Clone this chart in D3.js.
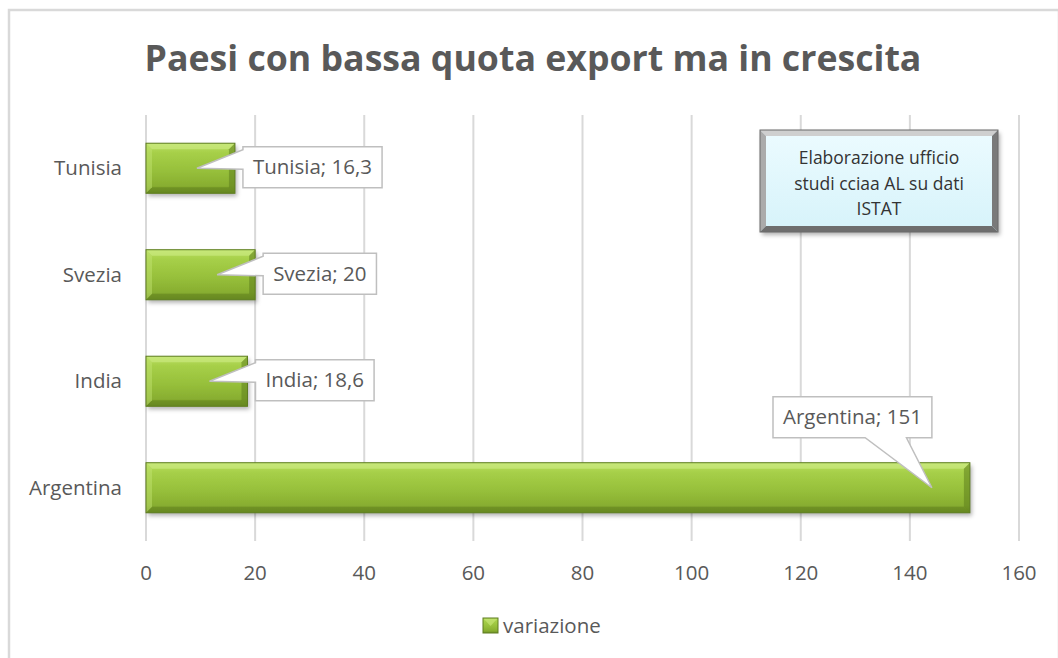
<!DOCTYPE html>
<html>
<head>
<meta charset="utf-8">
<script src="https://cdn.jsdelivr.net/npm/d3@7"></script>
<style>
  html, body { margin: 0; padding: 0; background: #fff; }
  svg { display: block; font-family: "Open Sans", "Noto Sans", sans-serif; }
</style>
</head>
<body>
<svg id="chart" width="1058" height="658"></svg>
<script>
// data
const categories = ['Argentina', 'India', 'Svezia', 'Tunisia']
const variazione = [151, 18.6, 20, 16.3]
const xTicks = [0, 20, 40, 60, 80, 100, 120, 140, 160]
const title = 'Paesi con bassa quota export ma in crescita'
const seriesName = 'variazione'
const sourceLines = ['Elaborazione ufficio', 'studi cciaa AL su dati', 'ISTAT']

const W = 1058, H = 658
const margin = { top: 115, right: 39, bottom: 117, left: 146 }
const textColor = '#595959'

const svg = d3.select('#chart')

// gradients and filters
const defs = svg.append('defs')
const barGrad = defs.append('linearGradient').attr('id', 'barGrad')
  .attr('x1', 0).attr('y1', 0).attr('x2', 0).attr('y2', 1)
;[[0, '#b9de62'], [0.2, '#a6cf48'], [0.55, '#97c03b'], [0.85, '#88ae30'], [1, '#6f9126']]
  .forEach(([o, c]) => barGrad.append('stop').attr('offset', o).attr('stop-color', c))

const boxGrad = defs.append('linearGradient').attr('id', 'boxGrad')
  .attr('x1', 0).attr('y1', 0).attr('x2', 0).attr('y2', 1)
;[[0, '#ecfbff'], [1, '#d6f3fa']]
  .forEach(([o, c]) => boxGrad.append('stop').attr('offset', o).attr('stop-color', c))

const shadow = defs.append('filter').attr('id', 'shadow')
  .attr('x', '-10%').attr('y', '-20%').attr('width', '130%').attr('height', '160%')
shadow.append('feDropShadow').attr('dx', 2).attr('dy', 3).attr('stdDeviation', 2)
  .attr('flood-color', '#000').attr('flood-opacity', 0.3)

// chart border
svg.append('rect')
  .attr('x', 9).attr('y', 10).attr('width', W - 8).attr('height', H - 8)
  .attr('fill', 'none').attr('stroke', '#d9d9d9').attr('stroke-width', 2.5)

// title, fitted to the width it has in the original
const titleText = svg.append('text')
  .attr('x', 533).attr('y', 71)
  .attr('text-anchor', 'middle')
  .attr('fill', textColor)
  .attr('font-weight', 'bold')
  .attr('font-size', 34)
  .text(title)
const tw = titleText.node().getComputedTextLength()
titleText.attr('font-size', 34 * 777 / tw)

const x = d3.scaleLinear()
  .domain([xTicks[0], xTicks[xTicks.length - 1]])
  .range([margin.left, W - margin.right])

const y = d3.scaleBand()
  .domain(categories.slice().reverse())
  .range([margin.top, H - margin.bottom])
  .paddingInner(0.53)
  .paddingOuter(0.265)

// gridlines
svg.append('g')
  .selectAll('line')
  .data(xTicks)
  .join('line')
  .attr('x1', d => x(d)).attr('x2', d => x(d))
  .attr('y1', margin.top).attr('y2', H - margin.bottom)
  .attr('stroke', '#d9d9d9').attr('stroke-width', 2)

// x axis labels
svg.append('g')
  .selectAll('text')
  .data(xTicks)
  .join('text')
  .attr('x', d => x(d)).attr('y', 580)
  .attr('text-anchor', 'middle')
  .attr('fill', textColor)
  .attr('font-size', 20.5)
  .text(d => d)

// category labels
svg.append('g')
  .selectAll('text')
  .data(categories)
  .join('text')
  .attr('x', 122)
  .attr('y', d => y(d) + y.bandwidth() / 2)
  .attr('dy', '0.35em')
  .attr('text-anchor', 'end')
  .attr('fill', textColor)
  .attr('font-size', 20.5)
  .text(d => d)

// bars with bevel
const bev = 6
const bars = svg.append('g')
  .selectAll('g')
  .data(categories.map((c, i) => ({ c, v: variazione[i] })))
  .join('g')
  .attr('transform', d => `translate(${x(0)},${y(d.c)})`)

bars.each(function (d) {
  const g = d3.select(this)
  const w = x(d.v) - x(0)
  const h = y.bandwidth()
  g.append('rect')
    .attr('width', w).attr('height', h)
    .attr('fill', 'url(#barGrad)')
    .attr('filter', 'url(#shadow)')
  // top bevel
  g.append('polygon')
    .attr('points', [[0, 0], [w, 0], [w - bev, bev], [bev, bev]].join(' '))
    .attr('fill', '#d2ee8a').attr('opacity', 0.55)
  // bottom bevel
  g.append('polygon')
    .attr('points', [[0, h], [w, h], [w - bev, h - bev], [bev, h - bev]].join(' '))
    .attr('fill', '#5d7e1c').attr('opacity', 0.5)
  // left bevel
  g.append('polygon')
    .attr('points', [[0, 0], [bev, bev], [bev, h - bev], [0, h]].join(' '))
    .attr('fill', '#c4e474').attr('opacity', 0.45)
  // right bevel
  g.append('polygon')
    .attr('points', [[w, 0], [w - bev, bev], [w - bev, h - bev], [w, h]].join(' '))
    .attr('fill', '#5f801e').attr('opacity', 0.55)
  g.append('rect')
    .attr('width', w).attr('height', h)
    .attr('fill', 'none').attr('stroke', '#5e7d20').attr('stroke-width', 1)
})

// data label callouts
const fmt = v => String(v).replace('.', ',')
const labelG = svg.append('g')
categories.forEach((c, i) => {
  const v = variazione[i]
  const cy = y(c) + y.bandwidth() / 2
  const tip = [x(v) - 38, cy]
  const label = `${c}; ${fmt(v)}`
  const t = labelG.append('text')
    .attr('font-size', 20.5)
    .attr('fill', textColor)
    .text(label)
  const tl = t.node().getComputedTextLength()
  const bw = tl + 20, bh = 41
  let bx, by, path
  if (v > 100) {
    // box above the bar end, pointer downwards
    bx = tip[0] - bw
    by = y(c) - 66
    const b1 = bx + bw * 0.58, b2 = bx + bw * 0.84
    path = `M${bx},${by}H${bx + bw}V${by + bh}H${b2}L${tip[0]},${tip[1]}L${b1},${by + bh}H${bx}Z`
  } else {
    bx = x(v) + 8
    by = cy - bh / 2 - 1
    const b1 = by + 3, b2 = by + bh * 0.55
    path = `M${bx},${by}H${bx + bw}V${by + bh}H${bx}V${b2}L${tip[0]},${tip[1]}L${bx},${b1}Z`
  }
  labelG.insert('path', 'text')
    .attr('d', path)
    .attr('fill', '#fff')
    .attr('stroke', '#bfbfbf')
    .attr('stroke-width', 1.5)
  t.attr('x', bx + bw / 2).attr('y', by + bh / 2)
    .attr('dy', '0.35em')
    .attr('text-anchor', 'middle')
  t.raise()
})

// source note box with bevel
const sb = { x: 760, y: 130, w: 238, h: 102 }
const sg = svg.append('g').attr('transform', `translate(${sb.x},${sb.y})`)
sg.append('rect').attr('width', sb.w).attr('height', sb.h)
  .attr('fill', 'url(#boxGrad)').attr('filter', 'url(#shadow)')
const sbev = 6
sg.append('polygon')
  .attr('points', [[0, 0], [sb.w, 0], [sb.w - sbev, sbev], [sbev, sbev]].join(' '))
  .attr('fill', '#cfcfcf')
sg.append('polygon')
  .attr('points', [[0, 0], [sbev, sbev], [sbev, sb.h - sbev], [0, sb.h]].join(' '))
  .attr('fill', '#ababab')
sg.append('polygon')
  .attr('points', [[sb.w, 0], [sb.w - sbev, sbev], [sb.w - sbev, sb.h - sbev], [sb.w, sb.h]].join(' '))
  .attr('fill', '#7a7a7a')
sg.append('polygon')
  .attr('points', [[0, sb.h], [sb.w, sb.h], [sb.w - sbev, sb.h - sbev], [sbev, sb.h - sbev]].join(' '))
  .attr('fill', '#6e6e6e')
sg.append('rect').attr('width', sb.w).attr('height', sb.h)
  .attr('fill', 'none').attr('stroke', '#6b6b6b').attr('stroke-width', 1)
sg.selectAll('text.src')
  .data(sourceLines)
  .join('text')
  .attr('class', 'src')
  .attr('x', sb.w / 2)
  .attr('y', (d, i) => 28 + i * 25.5)
  .attr('dy', '0.35em')
  .attr('text-anchor', 'middle')
  .attr('fill', '#333')
  .attr('font-size', 17.5)
  .text(d => d)

// legend
const lg = svg.append('g').attr('transform', 'translate(483,618)')
lg.append('rect').attr('width', 15).attr('height', 15)
  .attr('fill', 'url(#barGrad)').attr('stroke', '#5e7d20').attr('stroke-width', 1)
lg.append('polygon').attr('points', '1,1 14,1 7.5,8').attr('fill', '#c4e474').attr('opacity', 0.7)
lg.append('text')
  .attr('x', 20).attr('y', 7.5).attr('dy', '0.35em')
  .attr('fill', textColor).attr('font-size', 20.5)
  .text(seriesName)
</script>
</body>
</html>
